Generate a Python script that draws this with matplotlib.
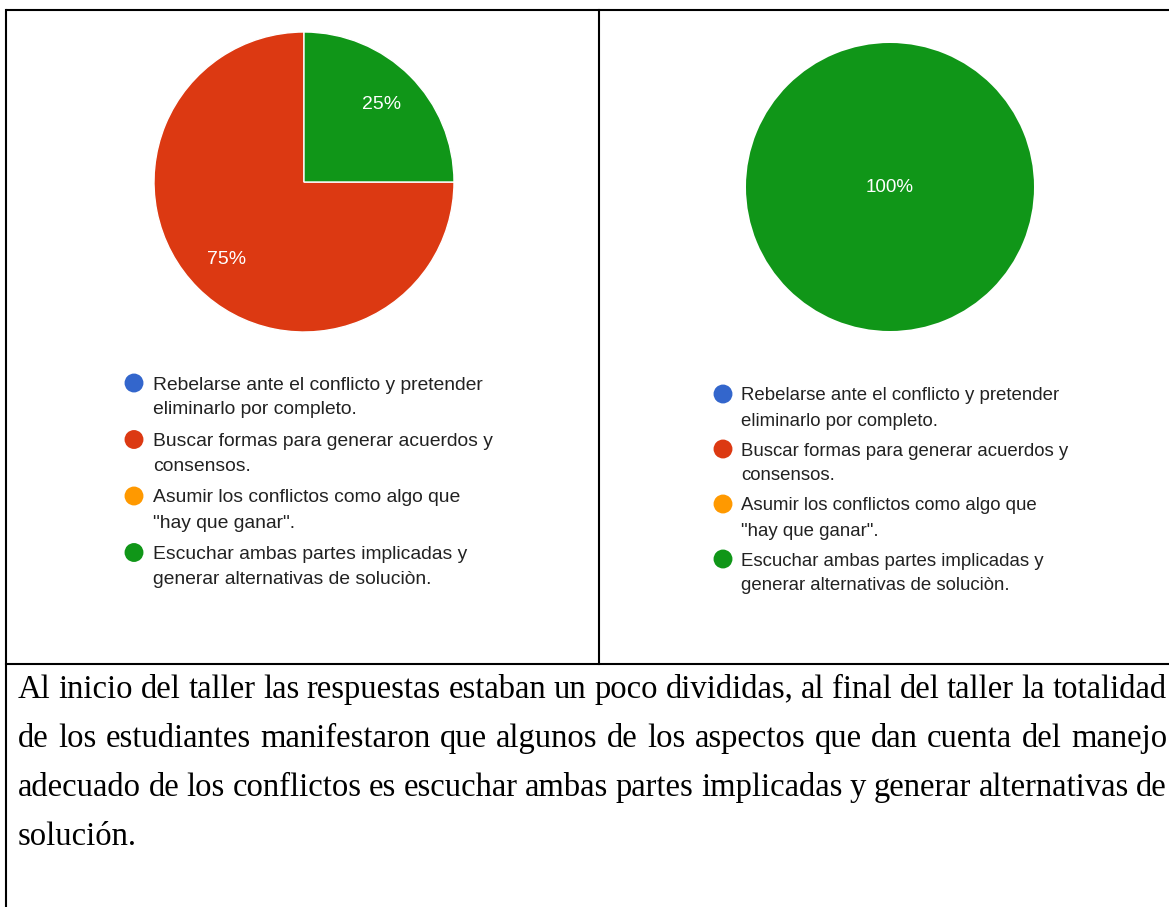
import matplotlib
matplotlib.use('Agg')
import matplotlib.pyplot as plt

# data
categorias = ['Rebelarse ante el conflicto y pretender\neliminarlo por completo.',
              'Buscar formas para generar acuerdos y\nconsensos.',
              'Asumir los conflictos como algo que\n"hay que ganar".',
              'Escuchar ambas partes implicadas y\ngenerar alternativas de soluciòn.']
colores = ['#3366CC', '#DC3912', '#FF9900', '#109618']
inicio = [0, 75, 0, 25]
final = [0, 0, 0, 100]
parrafo = ['Al inicio del taller las respuestas estaban un poco divididas, al final del taller la totalidad',
           'de los estudiantes manifestaron que algunos de los aspectos que dan cuenta del manejo',
           'adecuado de los conflictos es escuchar ambas partes implicadas y generar alternativas de',
           'solución.']

W, H = 1169, 907
fig = plt.figure(figsize=(W / 100, H / 100), dpi=100)
fig.patch.set_facecolor('white')

bg = fig.add_axes([0, 0, 1, 1])
bg.set_xlim(0, W)
bg.set_ylim(H, 0)
bg.axis('off')

# table borders
lw = 1.5
bg.plot([6, W], [10, 10], color='black', lw=lw, solid_capstyle='butt')
bg.plot([6, 6], [10, H], color='black', lw=lw)
bg.plot([599, 599], [10, 664], color='black', lw=lw)
bg.plot([6, W], [664, 664], color='black', lw=lw)


def pie(cx, cy, r, valores, fs):
    ax = fig.add_axes([(cx - r) / W, 1 - (cy + r) / H, 2 * r / W, 2 * r / H])
    vals = [v for v in valores if v > 0]
    cols = [c for v, c in zip(valores, colores) if v > 0]
    pd_ = 0.73 if len(vals) > 1 else 0.0
    ax.pie(vals, colors=cols, startangle=90, counterclock=True,
           autopct=lambda p: '%d%%' % round(p), pctdistance=pd_,
           wedgeprops=dict(edgecolor='white', linewidth=1 if len(vals) > 1 else 0),
           textprops=dict(color='white', fontsize=fs, family='Liberation Sans'))
    ax.set_xlim(-1, 1)
    ax.set_ylim(-1, 1)


pie(304, 182, 150, inicio, 14)
pie(890, 187, 144, final, 13.5)


def leyenda(mx, tx, y0, paso, fs):
    for i, (cat, col) in enumerate(zip(categorias, colores)):
        y = y0 + i * paso
        bg.scatter([mx], [y], s=185, color=col, edgecolors='none')
        l1, l2 = cat.split('\n')
        bg.text(tx, y, l1, fontsize=fs, family='Liberation Sans', color='#222222',
                va='center_baseline', ha='left')
        bg.text(tx, y + 25, l2, fontsize=fs, family='Liberation Sans', color='#222222',
                va='center_baseline', ha='left')


leyenda(134, 153, 383, 56.5, 13.9)
leyenda(723, 741, 394, 55, 13.4)

# justified paragraph
r = fig.canvas.get_renderer()
x0, x1 = 18, 1167
ys = [686, 735, 784, 833]
for k, (linea, y) in enumerate(zip(parrafo, ys)):
    palabras = linea.split(' ')
    objs = [bg.text(0, y, p, fontsize=23.5, family='Liberation Serif', color='black',
                    va='center_baseline', ha='left') for p in palabras]
    anchos = [o.get_window_extent(r).width for o in objs]
    if k < len(parrafo) - 1 and len(palabras) > 1:
        gap = (x1 - x0 - sum(anchos)) / (len(palabras) - 1)
    else:
        gap = 0.25 * 23.5 * 100 / 72
    x = x0
    for o, a in zip(objs, anchos):
        o.set_x(x)
        x += a + gap

fig.savefig('out.png', dpi=100)
